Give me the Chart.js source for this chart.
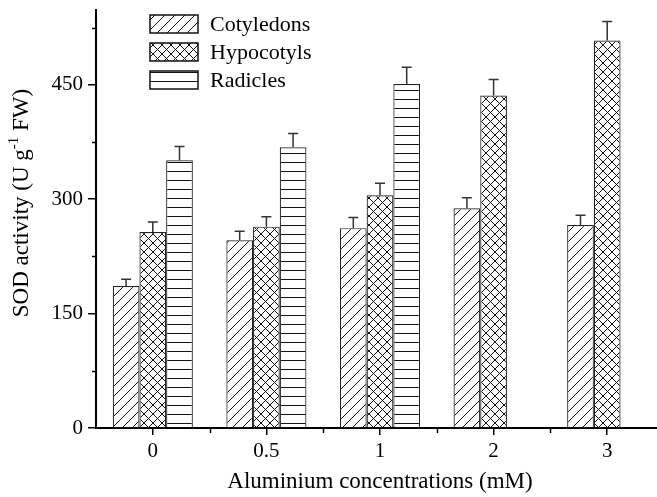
<!DOCTYPE html>
<html>
<head>
<meta charset="utf-8">
<script src="https://cdn.jsdelivr.net/npm/chart.js@4.4.0/dist/chart.umd.min.js"></script>
<style>
  html, body { margin: 0; padding: 0; background: #fff; overflow: hidden; }
  #wrap { width: 657px; height: 497px; overflow: hidden; }
</style>
</head>
<body>
<div id="wrap"><canvas id="sodChart" width="664" height="497"></canvas></div>
<script>
const categories = ['0', '0.5', '1', '2', '3'];
const cotyledons = [186, 246, 262, 288, 266];
const hypocotyls = [257, 264, 305, 436, 508];
const radicles = [351, 368, 451, null, null];
const cotyledonsErr = [9, 12, 14, 14, 13];
const hypocotylsErr = [13, 13, 16, 21, 25];
const radiclesErr = [18, 18, 22, null, null];
const seriesNames = ['Cotyledons', 'Hypocotyls', 'Radicles'];

const FONT = "'Liberation Serif', 'Times New Roman', serif";

// hatch fills like the original figure
function makePattern(kind) {
    const c = document.createElement('canvas');
    const g = c.getContext('2d');
    let s = 9;
    if (kind === 'diag') s = 10;
    c.width = s; c.height = s;
    g.fillStyle = '#fff';
    g.fillRect(0, 0, s, s);
    g.strokeStyle = '#111';
    g.lineWidth = 1;
    g.beginPath();
    if (kind === 'diag' || kind === 'cross') {
        g.moveTo(-1, s + 1); g.lineTo(s + 1, -1);
    }
    if (kind === 'cross') {
        g.moveTo(-1, -1); g.lineTo(s + 1, s + 1);
    }
    if (kind === 'hline') {
        g.moveTo(0, 0.5); g.lineTo(s, 0.5);
    }
    g.stroke();
    return g.createPattern(c, 'repeat');
}

const fills = [makePattern('diag'), makePattern('cross'), makePattern('hline')];
const errs = [cotyledonsErr, hypocotylsErr, radiclesErr];

const extras = {
    id: 'extras',
    afterDatasetsDraw(chart) {
        const ctx = chart.ctx;
        const xs = chart.scales.x, ys = chart.scales.y;
        const area = chart.chartArea;
        ctx.save();

        // error bars (upper only)
        ctx.strokeStyle = '#333';
        ctx.lineWidth = 1.5;
        chart.data.datasets.forEach((ds, i) => {
            const meta = chart.getDatasetMeta(i);
            ds.data.forEach((v, j) => {
                if (v == null) return;
                const x = meta.data[j].x;
                const y0 = ys.getPixelForValue(v);
                const y1 = ys.getPixelForValue(v + errs[i][j]);
                ctx.beginPath();
                ctx.moveTo(x, y0); ctx.lineTo(x, y1);
                ctx.moveTo(x - 5, y1); ctx.lineTo(x + 5, y1);
                ctx.stroke();
            });
        });

        // minor ticks
        ctx.strokeStyle = '#000';
        ctx.lineWidth = 1.5;
        [75, 225, 375, 525].forEach(v => {
            const y = Math.round(ys.getPixelForValue(v)) + 0.5;
            ctx.beginPath();
            ctx.moveTo(area.left - 4, y); ctx.lineTo(area.left, y);
            ctx.stroke();
        });
        for (let i = 0; i < categories.length; i++) {
            const x = Math.round(xs.getPixelForTick(i) + xs.width / categories.length / 2) + 0.5;
            ctx.beginPath();
            ctx.moveTo(x, area.bottom); ctx.lineTo(x, area.bottom + 5);
            ctx.stroke();
        }

        // legend
        ctx.font = '22px ' + FONT;
        ctx.textBaseline = 'middle';
        ctx.textAlign = 'left';
        seriesNames.forEach((name, i) => {
            const top = 15 + i * 28;
            ctx.fillStyle = fills[i];
            ctx.fillRect(150, top, 48, 18);
            ctx.strokeStyle = '#111';
            ctx.lineWidth = 1.5;
            ctx.strokeRect(150, top, 48, 18);
            ctx.fillStyle = '#000';
            ctx.fillText(name, 210, top + 10);
        });

        // y axis title with superscript
        ctx.translate(22, 203);
        ctx.rotate(-Math.PI / 2);
        const p1 = 'SOD activity (U g', p2 = '-1', p3 = ' FW)';
        ctx.font = '23px ' + FONT;
        const w1 = ctx.measureText(p1).width, w3 = ctx.measureText(p3).width;
        ctx.font = '15px ' + FONT;
        const w2 = ctx.measureText(p2).width;
        let x = -(w1 + w2 + w3) / 2;
        ctx.fillStyle = '#000';
        ctx.font = '23px ' + FONT;
        ctx.fillText(p1, x, 0);
        x += w1;
        ctx.font = '15px ' + FONT;
        ctx.fillText(p2, x, -8);
        x += w2;
        ctx.font = '23px ' + FONT;
        ctx.fillText(p3, x, 0);
        ctx.restore();
    }
};

new Chart(document.getElementById('sodChart').getContext('2d'), {
    type: 'bar',
    data: {
        labels: categories,
        datasets: [cotyledons, hypocotyls, radicles].map((d, i) => ({
            label: seriesNames[i],
            data: d,
            backgroundColor: fills[i],
            borderColor: '#222',
            borderWidth: 1.2,
            categoryPercentage: 0.705,
            barPercentage: 1.0
        }))
    },
    options: {
        responsive: false,
        animation: false,
        layout: { padding: { top: 10, left: 0, right: 0, bottom: 0 } },
        plugins: {
            legend: { display: false },
            tooltip: { enabled: false }
        },
        scales: {
            x: {
                grid: { drawOnChartArea: false, offset: false, tickLength: 7, color: '#000', lineWidth: 1.5 },
                border: { color: '#000', width: 2 },
                ticks: { color: '#000', font: { family: FONT, size: 21 }, padding: 4 },
                title: {
                    display: true,
                    text: 'Aluminium concentrations (mM)',
                    color: '#000',
                    font: { family: FONT, size: 23 },
                    padding: { top: 0, bottom: 1 }
                },
                afterFit: s => { s.height = 69; s.paddingLeft = 0; s.paddingRight = 0; }
            },
            y: {
                min: 0,
                max: 548,
                grid: { drawOnChartArea: false, tickLength: 8, color: '#000', lineWidth: 1.5 },
                border: { color: '#000', width: 2 },
                ticks: { stepSize: 150, includeBounds: false, color: '#000', font: { family: FONT, size: 21 }, padding: 5 },
                afterFit: s => { s.width = 96; s.paddingTop = 0; s.paddingBottom = 0; }
            }
        }
    },
    plugins: [extras]
});
</script>
</body>
</html>
